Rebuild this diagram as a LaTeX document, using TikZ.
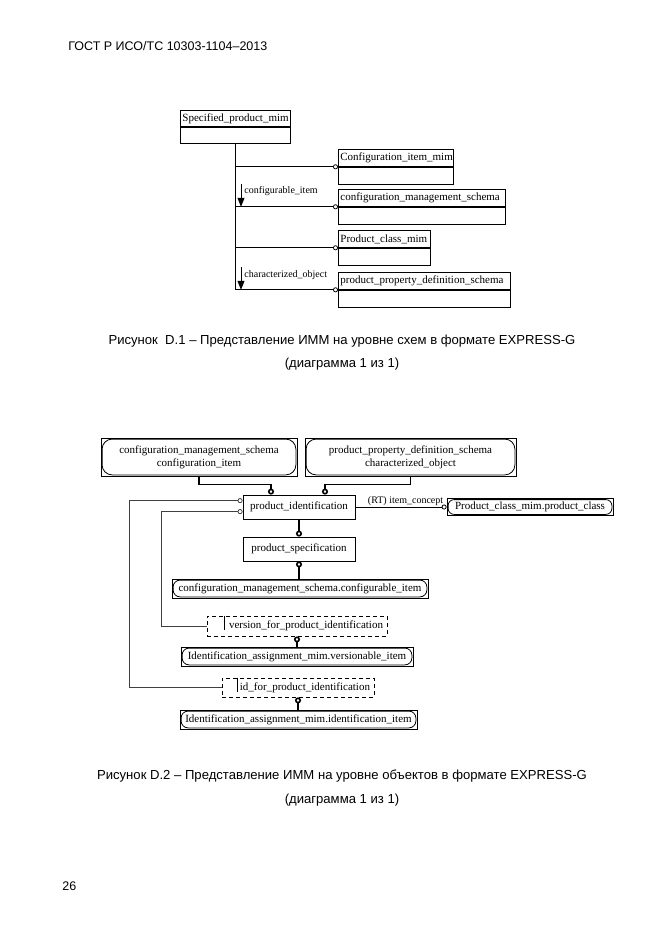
\documentclass[tikz,border=0pt]{standalone}
\usepackage{fontspec}
\setmainfont{Liberation Serif}
\newfontfamily\capfont{Liberation Sans}
\usetikzlibrary{arrows.meta}

\newcommand\dgmfont{\fontsize{11}{13}\selectfont}
\newcommand\lblfont{\fontsize{10}{12}\selectfont}
\newcommand\pagefont{\capfont\fontsize{12.5}{15}\selectfont}
\newcommand\figcapfont{\capfont\fontsize{13.1}{15}\selectfont}

\begin{document}
\begin{tikzpicture}[x=1pt, y=-1pt, line width=0.8pt,
  ehead/.style={draw, rectangle, anchor=north west, inner xsep=2pt, inner ysep=0pt,
    minimum height=17pt, text width=#1, align=left, font=\dgmfont},
  ebody/.style={draw, rectangle, anchor=north west, inner sep=0pt,
    minimum width=#1, minimum height=17pt},
  objbox/.style={draw, rectangle, inner sep=0pt, minimum width=#1,
    minimum height=24pt, font=\dgmfont},
  refbox/.style={draw, rectangle, inner sep=0pt, minimum width=#1,
    minimum height=19pt, align=center, font=\dgmfont},
  typebox/.style={draw, rectangle, dash pattern=on 4pt off 3pt, inner xsep=4pt,
    inner ysep=0pt, minimum height=20pt, text width=#1, align=right, font=\dgmfont},
  lbl/.style={inner sep=1pt, font=\lblfont},
  pagetext/.style={font=\pagefont, inner sep=0pt},
  caption/.style={font=\figcapfont, inner sep=0pt},
  link/.style={-{Circle[open, length=5pt]}},
  relarrow/.style={-{Triangle[length=9pt, width=7pt]}},
  heavy/.style={line width=1.6pt, -{Circle[open, length=6pt]}},
  heavystart/.style={line width=1.6pt, {Circle[open, length=6pt]}-},
  greylink/.style={black!75, -{Circle[open, length=5pt]}}]

  \useasboundingbox (0,0) rectangle (661,935);

  % Page text
  \node[pagetext, anchor=west] (hdr) at (68,46) {ГОСТ Р ИСО/ТС 10303-1104–2013};
  \node[pagetext, anchor=west] (pgno) at (62,886) {26};

  % Schema level diagram
  \node[ehead=106pt, minimum height=16pt] (spm) at (180,110) {Specified\_product\_mim};
  \node[ebody=110pt, minimum height=16pt] (spmb) at (spm.south west) {};
  \node[ehead=111pt] (cim) at (338,149) {Configuration\_item\_mim};
  \node[ebody=115pt] (cimb) at (cim.south west) {};
  \node[ehead=163pt] (cms) at (338,189) {configuration\_management\_schema};
  \node[ebody=167pt] (cmsb) at (cms.south west) {};
  \node[ehead=88pt] (pcm) at (338,230) {Product\_class\_mim};
  \node[ebody=92pt] (pcmb) at (pcm.south west) {};
  \node[ehead=168pt] (ppds) at (338,272) {product\_property\_definition\_schema};
  \node[ebody=172pt] (ppdsb) at (ppds.south west) {};

  % Trunk and branches
  \draw (spmb.south) -- (spmb.south |- ppds.south west);
  \foreach \n in {cim,cms,pcm,ppds}
    \draw[link] (spmb.south |- \n.south west) -- (\n.south west);

  % Reference labels
  \node[lbl, anchor=west] (cil) at (243,191) {configurable\_item};
  \coordinate (cia) at (241,184);
  \draw[relarrow] (cia) -- (cia |- cms.south west);
  \node[lbl, anchor=west] (col) at (243,275) {characterized\_object};
  \coordinate (coa) at (241,267);
  \draw[relarrow] (coa) -- (coa |- ppds.south west);

  \node[caption] (capa) at (342,341) {Рисунок~ D.1 – Представление ИММ на уровне схем в формате EXPRESS-G};
  \node[caption] (capb) at (342,364) {(диаграмма 1 из 1)};

  % Object level diagram
  \node[refbox=196pt, minimum height=38pt] (cmsref) at (199,457)
    {configuration\_management\_schema\\configuration\_item};
  \node[refbox=211pt, minimum height=38pt] (ppdsref) at (410.5,457)
    {product\_property\_definition\_schema\\characterized\_object};
  \node[objbox=112pt] (pid) at (299,507) {product\_identification};
  \node[refbox=166pt, minimum height=17pt] (pcref) at (530,507) {Product\_class\_mim.product\_class};
  \node[objbox=112pt] (pspec) at (299,549) {product\_specification};
  \node[refbox=256pt] (cfgref) at (300,588.5) {configuration\_management\_schema.configurable\_item};
  \node[typebox=172pt] (vfpi) at (297,626) {version\_for\_product\_identification};
  \node[refbox=232pt] (viref) at (297,656.5) {Identification\_assignment\_mim.versionable\_item};
  \node[typebox=144pt, minimum height=19pt] (idfpi) at (298,687.5) {id\_for\_product\_identification};
  \node[refbox=237pt] (iiref) at (298.5,719.5) {Identification\_assignment\_mim.identification\_item};

  % Rounded inner outlines of the references
  \foreach \n/\r in {cmsref/10, ppdsref/10, pcref/6, cfgref/7, viref/7, iiref/7}
    \draw[rounded corners=\r pt] ([shift={(1.5pt,-1.5pt)}]\n.north west)
      rectangle ([shift={(-1.5pt,1.5pt)}]\n.south east);
  \foreach \n/\d in {vfpi/18, idfpi/16}
    \draw (\n.north west) ++(\d,0) -- ++(0,14);

  % Connectors
  \draw[heavy] (cmsref.south) -- ++(0,8) -| ([xshift=-28pt]pid.north);
  \draw[heavy] (ppdsref.south) -- ++(0,8) -| ([xshift=26pt]pid.north);
  \draw[link] (pid.east) -- node[lbl, above, pos=0.55] (icl) {(RT) item\_concept} (pid.east -| pcref.west);
  \draw[heavy] (pid.south) -- (pid.south |- pspec.north);
  \draw[heavystart] (pspec.south) -- (pspec.south |- cfgref.north);
  \draw[heavystart] (vfpi.south) -- (vfpi.south |- viref.north);
  \draw[heavystart] (idfpi.south) -- (idfpi.south |- iiref.north);
  \draw[greylink] (idfpi.west) -- ++(-92,0) |- ([yshift=-6pt]pid.north west);
  \draw[greylink] (vfpi.west) -- ++(-45,0) |- ([yshift=-17pt]pid.north west);

  \node[caption] (capc) at (342,776) {Рисунок D.2 – Представление ИММ на уровне объектов в формате EXPRESS-G};
  \node[caption] (capd) at (342,800) {(диаграмма 1 из 1)};
\end{tikzpicture}
\end{document}
